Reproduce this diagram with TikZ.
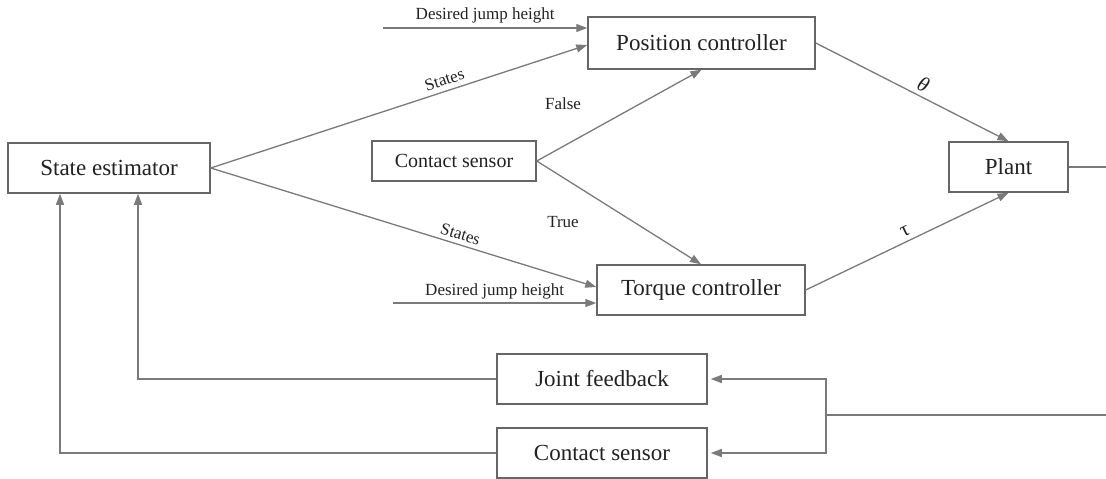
\documentclass[tikz,border=0pt]{standalone}
\usepackage{fontspec}
\setmainfont{Liberation Serif}
\usetikzlibrary{arrows.meta,calc}
\definecolor{wire}{HTML}{7A7A7A}
\definecolor{frame}{HTML}{666666}
\definecolor{ink}{HTML}{222222}
\tikzset{
  block/.style={draw=frame, line width=1.5pt, fill=white, text=ink,
    inner sep=0pt, font=\fontsize{23}{27}\selectfont},
  sig/.style={draw=wire, line width=1.3pt,
    -{Triangle[length=11pt,width=8pt]}, color=wire},
  wireline/.style={draw=wire, line width=1.3pt},
  lbl/.style={text=ink, font=\fontsize{17}{20}\selectfont, inner sep=1pt},
  greek/.style={text=ink, font=\fontsize{21}{24}\selectfont, inner sep=1pt}
}
\begin{document}
\begin{tikzpicture}[x=1pt,y=-1pt]
\useasboundingbox (0,0) rectangle (1106,479);

% blocks
\node[block, minimum width=227pt, minimum height=52pt] (pos)   at (701.5,43)  {Position controller};
\node[block, minimum width=202pt, minimum height=50pt] (est)   at (109,168)   {State estimator};
\node[block, minimum width=164pt, minimum height=40pt,
      font=\fontsize{20}{24}\selectfont]             (cs)    at (454,161)   {Contact sensor};
\node[block, minimum width=119pt, minimum height=50pt] (plant) at (1008.5,167) {Plant};
\node[block, minimum width=208pt, minimum height=50pt] (torq)  at (701,290)   {Torque controller};
\node[block, minimum width=210pt, minimum height=50pt] (jf)    at (602,379)   {Joint feedback};
\node[block, minimum width=210pt, minimum height=50pt] (cs2)   at (602,453)   {Contact sensor};

% free ends
\coordinate (djh1) at (383,28);
\coordinate (djh2) at (393,303);
\coordinate (out) at (1106,167);
\coordinate (in)  at (1106,415);
\coordinate (tap) at (826,415);

% reference inputs
\draw[sig] (djh1) -- node[lbl, above=3pt] {Desired jump height} (djh1 -| pos.west);
\draw[sig] (djh2) -- node[lbl, above=2pt] {Desired jump height} (djh2 -| torq.west);

% state estimate to both controllers
\draw[sig] (est.east) -- node[lbl, sloped, above=4pt, pos=0.63] {States} ([yshift=-2pt]pos.west);
\draw[sig] (est.east) -- node[lbl, sloped, above=3pt, pos=0.64] {States} ([yshift=3pt]torq.west);

% contact switching
\draw[sig] (cs.east) -- (pos.south);
\draw[sig] (cs.east) -- (torq.north);
\node[lbl] (flabel) at (563,104) {False};
\node[lbl] (tlabel) at (563,222) {True};

% controller outputs to plant
\draw[sig] (pos.east) -- node[greek, sloped, above=3pt, pos=0.53] {\textit{θ}} (plant.north);
\draw[sig] (torq.east) -- node[greek, sloped, above=3pt, pos=0.51] {τ} (plant.south);

% plant output and measurement feedback
\draw[wireline] (plant.east) -- (out);
\draw[wireline] (in) -- (tap);
\draw[sig, shorten >=3pt] (tap) |- (jf.east);
\draw[sig, shorten >=3pt] (tap) |- (cs2.east);

% sensors back to the estimator
\draw[sig] (jf.west) -| ([xshift=29pt]est.south);
\draw[sig] (cs2.west) -| ([xshift=-49pt]est.south);
\end{tikzpicture}
\end{document}
